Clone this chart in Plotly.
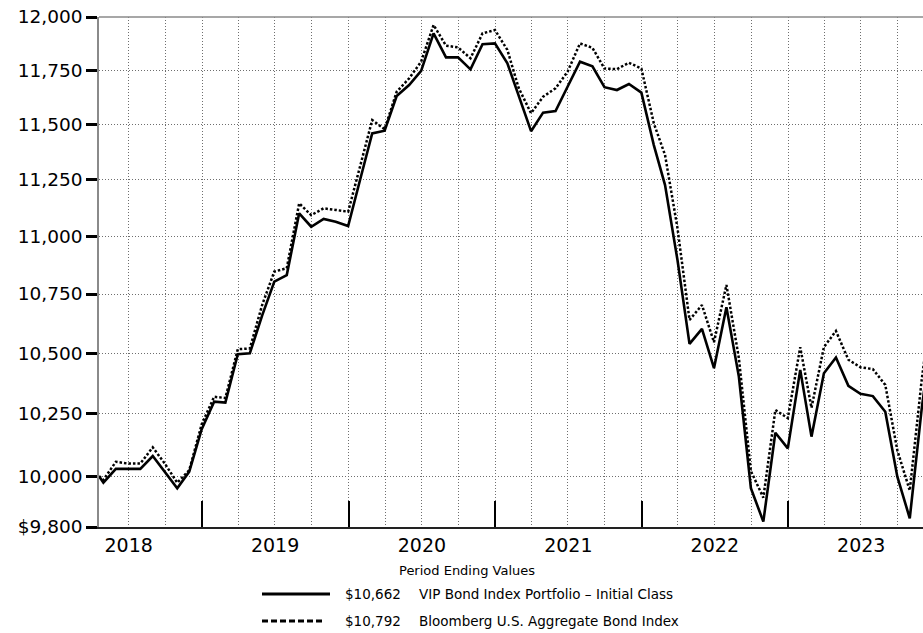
import math
import plotly.graph_objects as go

# Month-end values of a $10,000 investment (first point = inception)
dates = [
    "2018-04-19", "2018-04-30", "2018-05-31", "2018-06-30", "2018-07-31", "2018-08-31",
    "2018-09-30", "2018-10-31", "2018-11-30", "2018-12-31",
    "2019-01-31", "2019-02-28", "2019-03-31", "2019-04-30", "2019-05-31", "2019-06-30",
    "2019-07-31", "2019-08-31", "2019-09-30", "2019-10-31", "2019-11-30", "2019-12-31",
    "2020-01-31", "2020-02-29", "2020-03-31", "2020-04-30", "2020-05-31", "2020-06-30",
    "2020-07-31", "2020-08-31", "2020-09-30", "2020-10-31", "2020-11-30", "2020-12-31",
    "2021-01-31", "2021-02-28", "2021-03-31", "2021-04-30", "2021-05-31", "2021-06-30",
    "2021-07-31", "2021-08-31", "2021-09-30", "2021-10-31", "2021-11-30", "2021-12-31",
    "2022-01-31", "2022-02-28", "2022-03-31", "2022-04-30", "2022-05-31", "2022-06-30",
    "2022-07-31", "2022-08-31", "2022-09-30", "2022-10-31", "2022-11-30", "2022-12-31",
    "2023-01-31", "2023-02-28", "2023-03-31", "2023-04-30", "2023-05-31", "2023-06-30",
    "2023-07-31", "2023-08-31", "2023-09-30", "2023-10-31", "2023-11-30", "2023-12-31",
]

fund_values = [
    10000, 9974, 10029, 10029, 10029, 10080, 10016, 9952, 10018, 10188,
    10300, 10296, 10496, 10500, 10660, 10803, 10831, 11100, 11041, 11075, 11063, 11044,
    11257, 11458, 11470, 11629, 11680, 11746, 11922, 11809, 11809, 11753, 11871, 11875,
    11781, 11634, 11468, 11553, 11560, 11672, 11789, 11767, 11670, 11657, 11685, 11645,
    11405, 11225, 10896, 10539, 10602, 10438, 10694, 10403, 9952, 9821, 10174, 10111,
    10431, 10158, 10417, 10482, 10365, 10332, 10323, 10259, 9998, 9834, 10275, 10662,
]

index_values = [
    10000, 9985, 10057, 10050, 10050, 10115, 10050, 9974, 10024, 10208,
    10320, 10315, 10517, 10520, 10705, 10846, 10861, 11144, 11092, 11122, 11115, 11107,
    11317, 11519, 11477, 11649, 11711, 11789, 11962, 11864, 11856, 11805, 11922, 11938,
    11844, 11667, 11550, 11626, 11665, 11742, 11875, 11854, 11757, 11754, 11784, 11757,
    11504, 11360, 11035, 10640, 10703, 10546, 10789, 10480, 10020, 9915, 10266, 10233,
    10525, 10275, 10526, 10593, 10473, 10442, 10434, 10369, 10103, 9943, 10393, 10792,
]

fund_name = "VIP Bond Index Portfolio \u2013 Initial Class"
index_name = "Bloomberg U.S. Aggregate Bond Index"
legend_title = "Period Ending Values"

y_tick_values = [9800, 10000, 10250, 10500, 10750, 11000, 11250, 11500, 11750, 12000]
y_tick_labels = ["$9,800", "10,000", "10,250", "10,500", "10,750",
                 "11,000", "11,250", "11,500", "11,750", "12,000"]
year_labels = ["2018", "2019", "2020", "2021", "2022", "2023"]

X_RANGE = ["2018-04-19", "2023-12-03"]

# Canvas geometry
W, H = 923, 633
ML, MR, MT, MB = 99, 0, 17, 106
PW, PH = W - ML - MR, H - MT - MB


def px_x(px):
    return (px - ML) / PW


def px_y(py):
    return (H - MB - py) / PH


FONT = "DejaVu Sans"
GRID = "#6e6e6e"
GRID_DASH = "1px,2px"

fig = go.Figure()
fig.add_trace(go.Scatter(
    x=dates, y=fund_values, mode="lines", name=fund_name,
    line=dict(color="black", width=2.6), showlegend=False,
))
fig.add_trace(go.Scatter(
    x=dates, y=index_values, mode="lines", name=index_name,
    line=dict(color="black", width=2.5, dash="2.5px,2px"), showlegend=False,
))
# invisible trace that carries the year-separator ticks on a twin axis
fig.add_trace(go.Scatter(x=X_RANGE, y=[10000, 10000], xaxis="x2", mode="lines",
                         line=dict(width=0), hoverinfo="skip", showlegend=False))

quarter_lines = []
for yr in range(2018, 2024):
    for m in (1, 4, 7, 10):
        quarter_lines.append(f"{yr}-{m:02d}-01")

fig.update_layout(
    width=W, height=H,
    margin=dict(l=ML, r=MR, t=MT, b=MB),
    paper_bgcolor="white", plot_bgcolor="white",
    font=dict(family=FONT, color="black"),
    xaxis=dict(
        type="date", range=X_RANGE,
        tickmode="array",
        tickvals=[f"{y}-07-02" for y in year_labels],
        ticktext=year_labels,
        ticks="", showgrid=False, zeroline=False,
        tickfont=dict(size=19, family=FONT, color="black"),
        showline=True, linecolor="#222222", linewidth=2,
        minor=dict(tickmode="array", tickvals=quarter_lines, ticks="",
                   showgrid=True, gridcolor=GRID, griddash=GRID_DASH, gridwidth=1),
    ),
    xaxis2=dict(
        type="date", range=X_RANGE, overlaying="x", anchor="y", side="bottom",
        tickmode="array",
        tickvals=[f"{y}-01-01" for y in year_labels[1:]],
        ticks="inside", ticklen=26, tickwidth=2, tickcolor="black",
        showticklabels=False, showgrid=False, zeroline=False, showline=False,
    ),
    yaxis=dict(
        type="log",
        range=[math.log10(y_tick_values[0]), math.log10(y_tick_values[-1])],
        tickmode="array", tickvals=y_tick_values, ticktext=y_tick_labels,
        ticks="outside", ticklen=11, tickwidth=2.5, tickcolor="black",
        tickfont=dict(size=18.5, family=FONT, color="black"),
        showgrid=True, gridcolor=GRID, griddash=GRID_DASH, gridwidth=1,
        showline=True, linecolor="#8a8a8a", linewidth=1.5,
        zeroline=False,
    ),
    showlegend=False,
)

# top frame line
fig.add_shape(type="line", xref="paper", yref="paper", x0=0, x1=1, y0=1, y1=1,
              line=dict(color="#8a8a8a", width=1.5))

# legend block below the chart
fig.add_annotation(text=legend_title, xref="paper", yref="paper",
                   x=px_x(467), y=px_y(570), showarrow=False,
                   xanchor="center", yanchor="middle",
                   font=dict(size=13, family=FONT, color="black"))

rows = [
    (fund_values[-1], fund_name, None, 594, 330),
    (index_values[-1], index_name, "6px,3px", 621, 324),
]
for value, name, dash, py, x_end in rows:
    line_style = dict(color="black", width=3)
    if dash:
        line_style["dash"] = dash
    fig.add_shape(type="line", xref="paper", yref="paper",
                  x0=px_x(262), x1=px_x(x_end), y0=px_y(py), y1=px_y(py),
                  line=line_style)
    fig.add_annotation(text=f"${value:,}", xref="paper", yref="paper",
                       x=px_x(343), y=px_y(py), showarrow=False,
                       xanchor="left", yanchor="middle",
                       font=dict(size=13.5, family=FONT, color="black"))
    fig.add_annotation(text=name, xref="paper", yref="paper",
                       x=px_x(417), y=px_y(py), showarrow=False,
                       xanchor="left", yanchor="middle",
                       font=dict(size=13.5, family=FONT, color="black"))

fig.write_html("out.html")
